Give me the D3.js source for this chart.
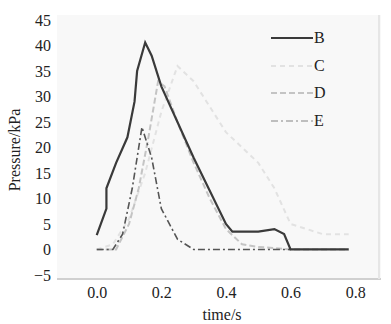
<!DOCTYPE html>
<html>
<head>
<meta charset="utf-8">
<script src="https://cdn.jsdelivr.net/npm/d3@7"></script>
<style>
  body { margin: 0; background: #fff; }
  svg text { font-family: "Liberation Serif", "Times New Roman", "DejaVu Serif", serif; }
</style>
</head>
<body>
<svg id="chart" width="391" height="324"></svg>
<script>
// data
const timeB = [0, 0.03, 0.03, 0.06, 0.095, 0.117, 0.125, 0.15, 0.17, 0.2, 0.3, 0.4, 0.42, 0.5, 0.55, 0.58, 0.6, 0.78];
const valB  = [2.8, 8, 12, 17, 22, 29, 35, 40.6, 38, 32, 18, 5, 3.5, 3.5, 4, 3, 0, 0];
const timeC = [0, 0.05, 0.1, 0.15, 0.2, 0.25, 0.3, 0.35, 0.4, 0.45, 0.5, 0.55, 0.6, 0.7, 0.78];
const valC  = [0, 1, 6, 15, 27, 36, 33, 28, 23, 20, 17, 12, 5, 3, 3];
const timeD = [0, 0.06, 0.1, 0.13, 0.16, 0.19, 0.21, 0.25, 0.3, 0.35, 0.4, 0.45, 0.5, 0.6, 0.78];
const valD  = [0, 0, 5, 12, 22, 33, 32, 25, 17, 10, 4, 1, 0.5, 0, 0];
const timeE = [0, 0.05, 0.08, 0.11, 0.14, 0.17, 0.2, 0.25, 0.3, 0.4, 0.5, 0.6];
const valE  = [0, 0, 3, 12, 24, 18, 8, 2, 0, 0, 0, 0];
const seriesNames = ["B", "C", "D", "E"];
const xTicks = [0, 0.2, 0.4, 0.6, 0.8];
const yTicks = [-5, 0, 5, 10, 15, 20, 25, 30, 35, 40, 45];

const svg = d3.select("svg#chart");
const margin = {top: 15, right: 10, bottom: 45, left: 57};
const width = 391 - margin.left - margin.right;
const height = 324 - margin.top - margin.bottom;
const serif = "'Liberation Serif', 'Times New Roman', serif";

const x = d3.scaleLinear().domain([-0.123, 0.88]).range([0, width]);
const y = d3.scaleLinear().domain([-5.8, 46]).range([height, 0]);

const g = svg.append("g").attr("transform", `translate(${margin.left},${margin.top})`);

g.append("rect").attr("width", width).attr("height", height).attr("fill", "#f8f8f8");
g.append("line").attr("x1", 0).attr("x2", width).attr("y1", height).attr("y2", height)
  .attr("stroke", "#d0d0d0").attr("stroke-width", 2);
g.append("line").attr("x1", width - 2).attr("x2", width - 2).attr("y1", 0).attr("y2", height)
  .attr("stroke", "#e6e6e6").attr("stroke-width", 2);

const xAxis = g.append("g").attr("transform", `translate(0,${height})`)
  .call(d3.axisBottom(x).tickValues(xTicks).tickFormat(d3.format(".1f")).tickSize(0).tickPadding(8));
const yAxis = g.append("g")
  .call(d3.axisLeft(y).tickValues(yTicks).tickFormat(d => d < 0 ? "\u2212" + Math.abs(d) : d).tickSize(0).tickPadding(6));
[xAxis, yAxis].forEach(a => {
  a.attr("font-family", serif).attr("font-size", 16);
  a.select(".domain").remove();
  a.selectAll("text").attr("fill", "#222");
});

svg.append("text").attr("x", 222).attr("y", 320).attr("text-anchor", "middle")
  .attr("font-family", serif).attr("font-size", 16).attr("fill", "#222").text("time/s");
svg.append("text").attr("transform", "translate(20,150) rotate(-90)").attr("text-anchor", "middle")
  .attr("font-family", serif).attr("font-size", 16).attr("fill", "#222").text("Pressure/kPa");

const styles = {
  B: {t: timeB, v: valB, color: "#3a3a3a", w: 2.2, dash: null},
  C: {t: timeC, v: valC, color: "#e2e2e2", w: 2, dash: "5,4"},
  D: {t: timeD, v: valD, color: "#c4c4c4", w: 2, dash: "6,3"},
  E: {t: timeE, v: valE, color: "#555", w: 1.6, dash: "7,3,2,3"}
};

const line = d3.line().x(d => x(d[0])).y(d => y(d[1]));
["C", "D", "E", "B"].forEach(k => {
  const s = styles[k];
  g.append("path")
    .attr("d", line(d3.zip(s.t, s.v)))
    .attr("fill", "none")
    .attr("stroke", s.color)
    .attr("stroke-width", s.w)
    .attr("stroke-dasharray", s.dash);
});

// legend
const legend = svg.append("g");
const legendY = [38, 66, 93, 121];
seriesNames.forEach((k, i) => {
  const s = styles[k];
  legend.append("line").attr("x1", 271).attr("x2", 313).attr("y1", legendY[i]).attr("y2", legendY[i])
    .attr("stroke", k === "E" ? "#aaa" : s.color).attr("stroke-width", s.w)
    .attr("stroke-dasharray", s.dash);
  legend.append("text").attr("x", 314).attr("y", legendY[i] + 5)
    .attr("font-family", serif).attr("font-size", 16).attr("fill", "#222").text(k);
});
</script>
</body>
</html>
